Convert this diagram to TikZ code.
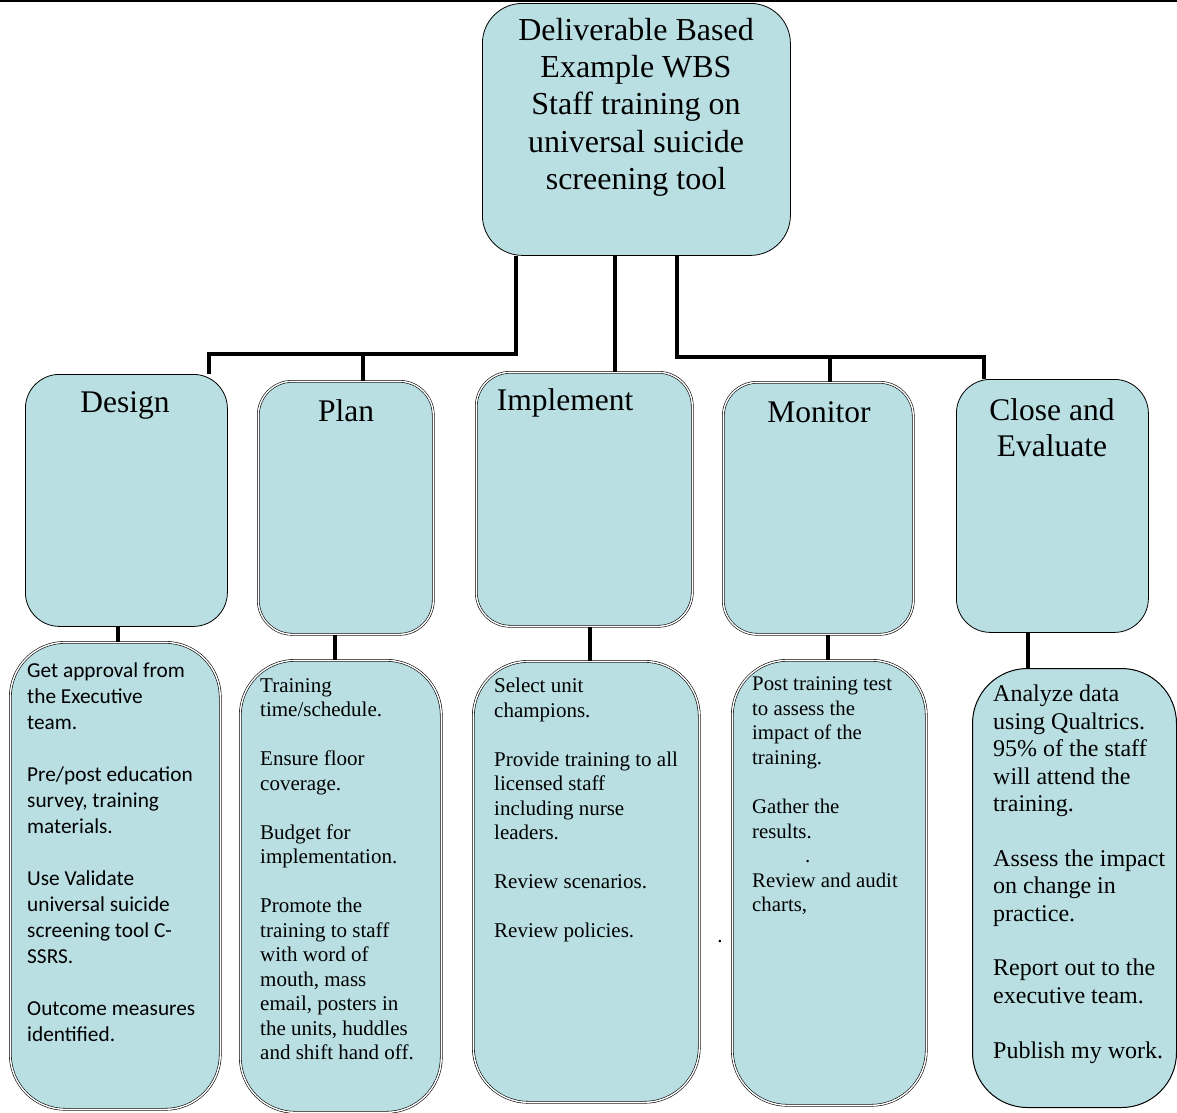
\documentclass[tikz,border=0pt]{standalone}
\usepackage{fontspec}
\setmainfont{Liberation Serif}
\newfontfamily\calibri{Carlito}
\definecolor{wbsblue}{RGB}{185,223,227}

\tikzset{
  box/.style={draw, fill=wbsblue, anchor=north west, inner sep=0pt, line width=0.8pt},
  dbox/.style={box, double, double distance=1.4pt, line width=0.6pt},
  link/.style={line width=3.5pt},
  boxtext/.style={anchor=north west, inner sep=0pt, align=left},
  headtext/.style={inner sep=0pt, font=\fontsize{31.5}{36}\selectfont}
}

\begin{document}
\begin{tikzpicture}[x=1pt,y=-1pt]

  \useasboundingbox (0,0) rectangle (1177,1112);
  \draw[line width=2.5pt] (0,1.2) -- (1177,1.2);

  % top box
  \node[box, rounded corners=40pt, minimum width=308pt, minimum height=252pt] (wbs) at (482,3) {};
  \node[headtext, anchor=north, align=center, font=\fontsize{32}{37.2}\selectfont] (wbstext) at (636,18)
    {Deliverable Based\\Example WBS\\Staff training on\\universal suicide\\screening tool};

  % second level
  \node[box,  rounded corners=34pt, minimum width=202pt, minimum height=252pt] (design) at (25,374) {};
  \node[dbox, rounded corners=34pt, minimum width=175pt, minimum height=253pt] (plan)   at (258,381) {};
  \node[dbox, rounded corners=34pt, minimum width=216pt, minimum height=254pt] (impl)   at (476,372) {};
  \node[dbox, rounded corners=34pt, minimum width=190pt, minimum height=252pt] (mon)    at (723,382) {};
  \node[box,  rounded corners=34pt, minimum width=192pt, minimum height=253pt] (close)  at (956,379) {};

  \node[headtext, anchor=base] (designlbl) at (125,412) {Design};
  \node[headtext, anchor=base] (planlbl)   at (346,421) {Plan};
  \node[headtext, anchor=base] (impllbl)   at (565,410) {Implement};
  \node[headtext, anchor=base] (monlbl)    at (819,422) {Monitor};
  \node[headtext, anchor=north, align=center] (closelbl) at (1052,398) {Close and\\Evaluate};

  % third level
  \node[dbox, rounded corners=55pt, minimum width=210pt, minimum height=467pt] (designsub) at (10,642) {};
  \node[dbox, rounded corners=55pt, minimum width=201pt, minimum height=452pt] (plansub)   at (240,660) {};
  \node[dbox, rounded corners=55pt, minimum width=226pt, minimum height=441pt] (implsub)   at (473,661) {};
  \node[dbox, rounded corners=55pt, minimum width=194pt, minimum height=445pt] (monsub)    at (732,660) {};
  \node[box,  rounded corners=55pt, minimum width=204pt, minimum height=439pt, line width=1pt] (closesub) at (972,668) {};

  \node[boxtext, font=\calibri\fontsize{21.3}{26}\selectfont] (designitems) at (27,662)
    {Get approval from\\the Executive\\team.\\[26pt]
     Pre/post education\\survey, training\\materials.\\[26pt]
     Use Validate\\universal suicide\\screening tool C-\\SSRS.\\[26pt]
     Outcome measures\\identified.};
  \node[boxtext, font=\fontsize{21}{24.5}\selectfont] (planitems) at (260,678)
    {Training\\time/schedule.\\[24.5pt]
     Ensure floor\\coverage.\\[24.5pt]
     Budget for\\implementation.\\[24.5pt]
     Promote the\\training to staff\\with word of\\mouth, mass\\email, posters in\\the units, huddles\\and shift hand off.};
  \node[boxtext, font=\fontsize{21}{24.5}\selectfont] (implitems) at (494,678)
    {Select unit\\champions.\\[24.5pt]
     Provide training to all\\licensed staff\\including nurse\\leaders.\\[24.5pt]
     Review scenarios.\\[24.5pt]
     Review policies.};
  \node[boxtext, font=\fontsize{20.8}{24.6}\selectfont] (monitems) at (752,676.5)
    {Post training test\\to assess the\\impact of the\\training.\\[24.6pt]
     Gather the\\results.\\\hspace*{53pt}.\\
     Review and audit\\charts,};
  \node[boxtext, font=\fontsize{24}{27.4}\selectfont] (closeitems) at (993,685)
    {Analyze data\\using Qualtrics.\\95\% of the staff\\will attend the\\training.\\[27.4pt]
     Assess the impact\\on change in\\practice.\\[27.4pt]
     Report out to the\\executive team.\\[27.4pt]
     Publish my work.};

  \node[inner sep=0pt, font=\fontsize{21}{24.5}\selectfont] (stray) at (720,942) {.};

  % connectors
  \draw[link] (wbs.south -| 516,0) -- (516,354) -| (design.north -| 209,0);
  \draw[link] (363,354) -- (plan.north -| 363,0);
  \draw[link] (wbs.south -| 615,0) -- (impl.north -| 615,0);
  \draw[link] (wbs.south -| 677,0) -- (677,357) -| (close.north -| 984,0);
  \draw[link] (830,357) -- (mon.north -| 830,0);

  \draw[link] (design.south -| 118,0) -- (designsub.north -| 118,0);
  \draw[link] (plan.south -| 335,0)   -- (plansub.north -| 335,0);
  \draw[link] (impl.south -| 590,0)   -- (implsub.north -| 590,0);
  \draw[link] (mon.south -| 828,0)    -- (monsub.north -| 828,0);
  \draw[link] (close.south -| 1028,0) -- (closesub.north -| 1028,0);

\end{tikzpicture}
\end{document}
